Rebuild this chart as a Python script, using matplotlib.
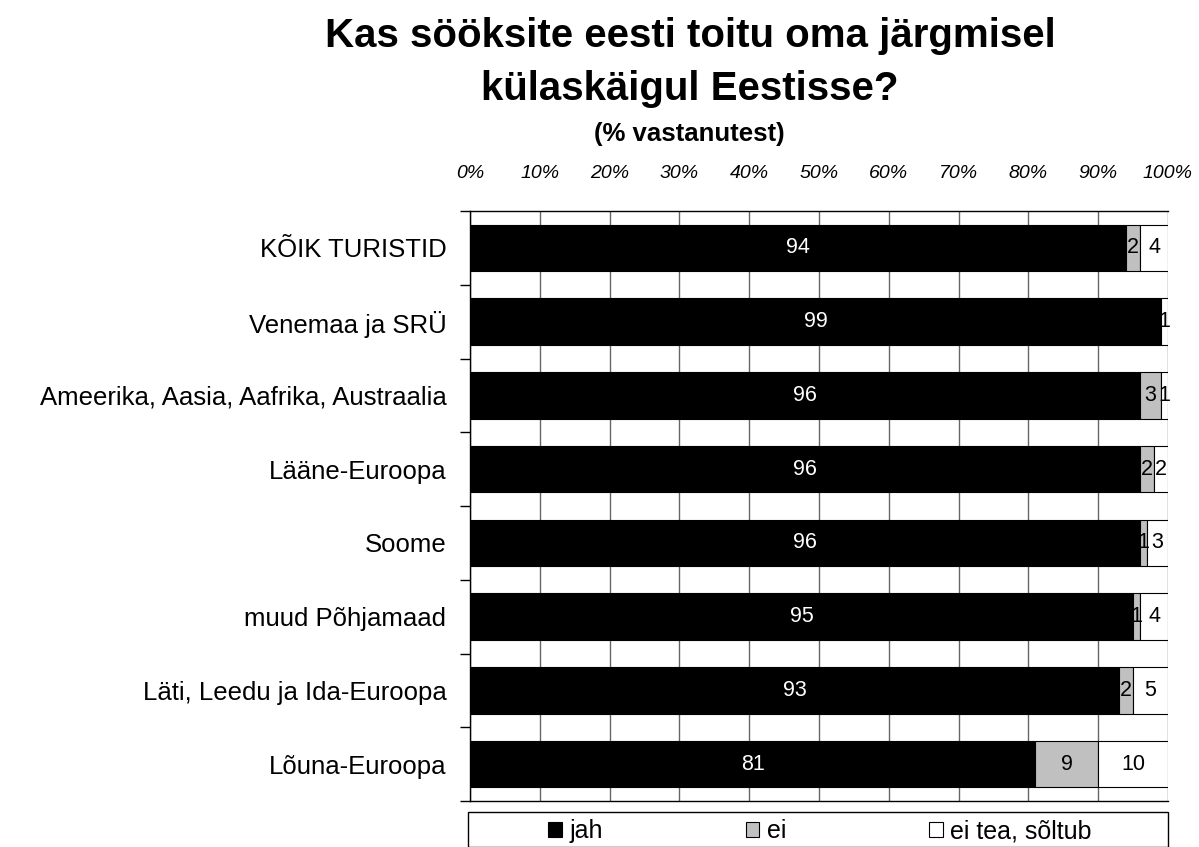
import matplotlib
matplotlib.use("Agg")
import matplotlib.pyplot as plt
from matplotlib.patches import Rectangle
import numpy as np

plt.rcParams["font.family"] = ["Liberation Sans", "DejaVu Sans"]

# data
categories = ["KÕIK TURISTID", "Venemaa ja SRÜ", "Ameerika, Aasia, Aafrika, Austraalia",
              "Lääne-Euroopa", "Soome", "muud Põhjamaad", "Läti, Leedu ja Ida-Euroopa", "Lõuna-Euroopa"]
jah = [94, 99, 96, 96, 96, 95, 93, 81]
ei = [2, 0, 3, 2, 1, 1, 2, 9]
ei_tea = [4, 1, 1, 2, 3, 4, 5, 10]
series_names = ["jah", "ei", "ei tea, sõltub"]
series_colors = ["#000000", "#C0C0C0", "#FFFFFF"]
label_colors = ["white", "black", "black"]
x_ticks = list(range(0, 101, 10))

fig = plt.figure(figsize=(11.99, 8.47), dpi=100)
ax = fig.add_axes([470 / 1199, 1 - 801 / 847, 698 / 1199, 590 / 847])

y = np.arange(len(categories))
left = np.zeros(len(categories))
for vals, name, col, lcol in zip([jah, ei, ei_tea], series_names, series_colors, label_colors):
    vals = np.array(vals, dtype=float)
    ax.barh(y, vals, left=left, height=0.63, color=col, edgecolor="black",
            linewidth=0.8, label=name, zorder=3)
    for yi, (l, v) in enumerate(zip(left, vals)):
        if v > 0:
            ax.text(l + v / 2, yi, f"{int(v)}", ha="center", va="center",
                    fontsize=15.5, color=lcol, zorder=4)
    left += vals

ax.set_xlim(0, 100)
ax.set_ylim(len(categories) - 0.5, -0.5)

# x axis on top, italic percent labels
ax.xaxis.tick_top()
ax.set_xticks(x_ticks)
ax.set_xticklabels([f"{t}%" for t in x_ticks], fontstyle="italic", fontsize=14)
ax.tick_params(axis="x", length=0, pad=21)
ax.grid(axis="x", color="#666666", linewidth=1, zorder=0)

# category labels at centres, ticks at boundaries
ax.set_yticks(np.arange(len(categories) + 1) - 0.5)
ax.set_yticklabels([])
ax.tick_params(axis="y", which="major", length=7, width=1, direction="out")
ax.set_yticks(y, minor=True)
ax.set_yticklabels(categories, minor=True, fontsize=18.5)
ax.tick_params(axis="y", which="minor", length=0, pad=17)

ax.spines["right"].set_visible(False)
for s in ["left", "top", "bottom"]:
    ax.spines[s].set_linewidth(1)

fig.text(690 / 1199, 1 - 36 / 847, "Kas sööksite eesti toitu oma järgmisel",
         ha="center", va="center", fontsize=29, fontweight="bold")
fig.text(690 / 1199, 1 - 89 / 847, "külaskäigul Eestisse?",
         ha="center", va="center", fontsize=29, fontweight="bold")
fig.text(689 / 1199, 1 - 134 / 847, "(% vastanutest)", ha="center", va="center",
         fontsize=18.5, fontweight="bold")

# legend box spanning the plot width
fig.patches.append(Rectangle((468 / 1199, 0), 700 / 1199, 1 - 812 / 847,
                             transform=fig.transFigure, facecolor="white",
                             edgecolor="black", linewidth=1))
leg = fig.legend(loc="center", bbox_to_anchor=(820 / 1199, 1 - 831 / 847), ncol=3,
                 frameon=False, fontsize=18, handlelength=0.55, handleheight=0.55,
                 handletextpad=0.3, columnspacing=5.7)
for h in leg.legend_handles:
    h.set_linewidth(0.8)

fig.savefig("out.png", dpi=100)
